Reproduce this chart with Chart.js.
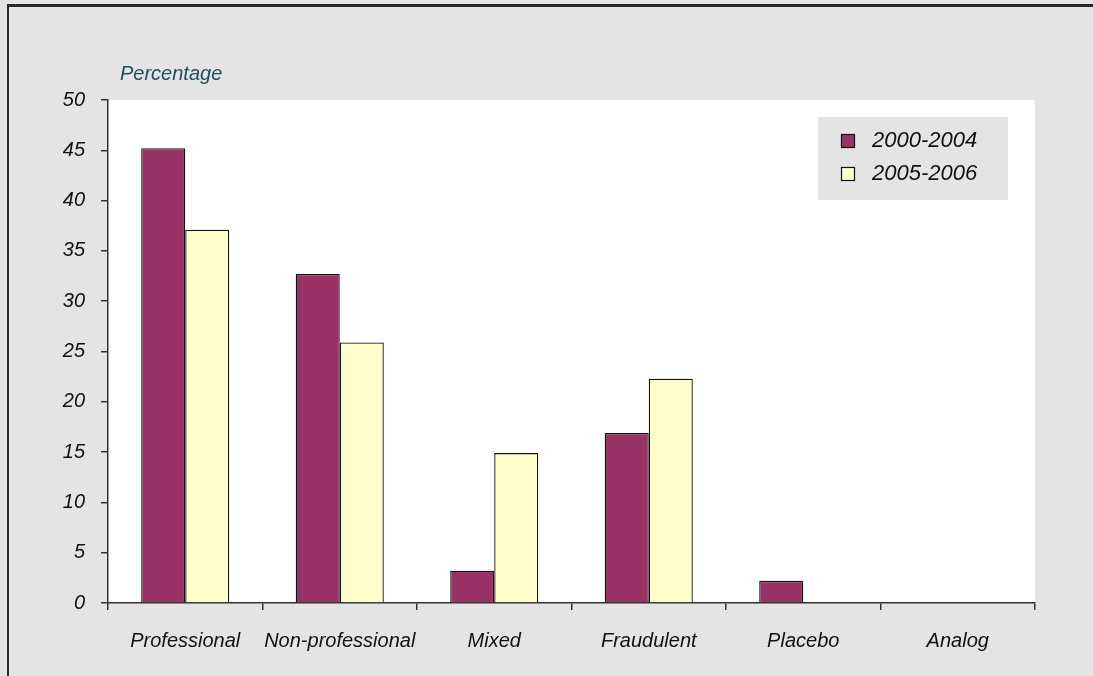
<!DOCTYPE html>
<html>
<head>
<meta charset="utf-8">
<script src="https://cdn.jsdelivr.net/npm/chart.js@4"></script>
<style>
  html, body { margin:0; padding:0; background:#e4e4e4; }
  #wrap { position:relative; width:1093px; height:676px; overflow:hidden; }
  #frame { position:absolute; left:7px; top:4px; width:1200px; height:800px; border-left:2px solid #2a2a2a; border-top:3px solid #2a2a2a; pointer-events:none; }
  canvas { position:absolute; left:0; top:0; }
</style>
</head>
<body>
<div id="wrap">
  <canvas id="bars" width="1093" height="676"></canvas>
  <div id="frame"></div>
</div>
<script>
// ---- DATA ----
const categories = ['Professional','Non-professional','Mixed','Fraudulent','Placebo','Analog'];
const seriesNames = ['2000-2004','2005-2006'];
const values2000 = [45.2, 32.7, 3.2, 16.9, 2.2, 0];
const values2005 = [37.1, 25.9, 14.9, 22.3, 0, 0];
const yTicks = [0,5,10,15,20,25,30,35,40,45,50];

const FONT = '"Liberation Sans", Arial, sans-serif';

// y-axis caption
const captionPlugin = {
  id:'caption',
  afterDraw(chart) {
    const c = chart.ctx;
    c.save();
    c.font = 'italic 20px ' + FONT;
    c.fillStyle = '#1d4f5c';
    c.textBaseline = 'middle';
    c.fillText('Percentage', 120, 74);
    c.restore();
  }
};

// boxed legend inside the plot
const boxLegend = {
  id:'boxLegend',
  afterDatasetsDraw(chart) {
    const c = chart.ctx;
    c.save();
    c.fillStyle = '#e4e4e4';
    c.fillRect(818, 117, 190, 83);
    c.font = 'italic 22px ' + FONT;
    c.textBaseline = 'middle';
    chart.data.datasets.forEach((ds, i) => {
      const y = 141 + i*33;
      c.fillStyle = ds.backgroundColor;
      c.fillRect(841.5, y-6.5, 13, 13);
      c.strokeStyle = '#111';
      c.lineWidth = 1.2;
      c.strokeRect(841.5, y-6.5, 13, 13);
      c.fillStyle = '#111';
      c.fillText(ds.label, 872, y);
    });
    c.restore();
  }
};

// white plot area
const plotBg = {
  id:'plotBg',
  beforeDraw(chart) {
    const a = chart.chartArea, c = chart.ctx;
    c.save();
    c.fillStyle = '#ffffff';
    c.fillRect(a.left, a.top, a.right-a.left, a.bottom-a.top);
    c.restore();
  }
};

new Chart(document.getElementById('bars'), {
  type:'bar',
  data:{
    labels:categories,
    datasets:[
      { label:seriesNames[0], data:values2000, backgroundColor:'#993366', borderColor:'#111', borderWidth:1.3, borderSkipped:'bottom' },
      { label:seriesNames[1], data:values2005, backgroundColor:'#ffffcc', borderColor:'#111', borderWidth:1.3, borderSkipped:'bottom' }
    ]
  },
  options:{
    responsive:false, animation:false, devicePixelRatio:1,
    layout:{ padding:{ left:0, top:100, right:58, bottom:0 } },
    datasets:{ bar:{ categoryPercentage:0.57, barPercentage:1 } },
    plugins:{ legend:{ display:false }, tooltip:{ enabled:false } },
    scales:{
      x:{
        grid:{ offset:true, drawOnChartArea:false, drawTicks:true, tickLength:7, color:'#333', lineWidth:1.5 },
        border:{ color:'#333', width:1.5 },
        ticks:{ color:'#111', font:{ family:FONT, size:20, style:'italic' }, padding:19, maxRotation:0, autoSkip:false },
        afterFit(s){ s.height = 73; }
      },
      y:{
        min:0, max:50,
        afterBuildTicks(s){ s.ticks = yTicks.map(v => ({ value:v })); },
        grid:{ drawOnChartArea:false, drawTicks:true, tickLength:7, color:'#333', lineWidth:1.5 },
        border:{ color:'#333', width:1.5 },
        ticks:{ color:'#111', font:{ family:FONT, size:20, style:'italic' }, padding:16 },
        afterFit(s){ s.width = 108; }
      }
    }
  },
  plugins:[plotBg, boxLegend, captionPlugin]
});
</script>
</body>
</html>
